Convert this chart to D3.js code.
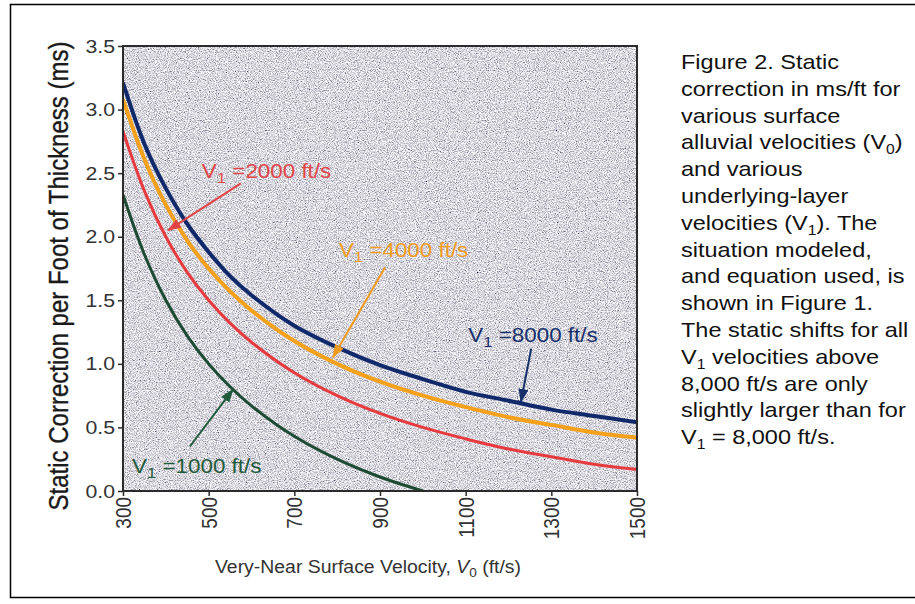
<!DOCTYPE html>
<html>
<head>
<meta charset="utf-8">
<script src="https://cdn.jsdelivr.net/npm/d3@7"></script>
<style>
  body { margin: 0; background: #fff; }
  text { font-family: "Liberation Sans", Arial, Helvetica, sans-serif; }
</style>
</head>
<body>
<div id="chart-area"></div>
<script>
// Static correction per foot of thickness vs very-near surface velocity
var v0Values = [300, 350, 400, 450, 500, 550, 600, 700, 800, 900, 1000, 1100, 1200, 1300, 1400, 1500];
var corr8000 = [3.21, 2.73, 2.38, 2.10, 1.88, 1.69, 1.54, 1.30, 1.13, 0.99, 0.88, 0.78, 0.71, 0.64, 0.59, 0.54];
var corr4000 = [3.08, 2.61, 2.25, 1.97, 1.75, 1.57, 1.42, 1.18, 1.00, 0.86, 0.75, 0.66, 0.58, 0.52, 0.46, 0.42];
var corr2000 = [2.83, 2.36, 2.00, 1.72, 1.50, 1.32, 1.17, 0.93, 0.75, 0.61, 0.50, 0.41, 0.33, 0.27, 0.21, 0.17];
var corr1000 = [2.33, 1.86, 1.50, 1.22, 1.00, 0.82, 0.67, 0.43, 0.25, 0.11, 0.00];
var xTicks = [300, 500, 700, 900, 1100, 1300, 1500];
var yTicks = [0, 0.5, 1.0, 1.5, 2.0, 2.5, 3.0, 3.5];

var seriesList = [
  {v1: '8000', values: corr8000, color: '#10296b', width: 4},
  {v1: '4000', values: corr4000, color: '#f6a11c', width: 4},
  {v1: '2000', values: corr2000, color: '#e63a3e', width: 3},
  {v1: '1000', values: corr1000, color: '#1d4a33', width: 3}
];

// label position and arrow (tail -> tip) in data units
var annotations = [
  {v1: '2000', color: '#e24446', lx: 484, ly: 2.46, tail: [575, 2.42], tip: [405, 2.05]},
  {v1: '4000', color: '#f29b1e', lx: 804, ly: 1.84, tail: [912, 1.76], tip: [790, 1.05]},
  {v1: '8000', color: '#17306c', lx: 1106, ly: 1.17, tail: [1253, 1.12], tip: [1229, 0.70]},
  {v1: '1000', color: '#1f5a3b', lx: 321, ly: 0.14, tail: [456, 0.35], tip: [557, 0.80]}
];

var captionLines = [
  ['Figure 2. Static'],
  ['correction in ms/ft for'],
  ['various surface'],
  ['alluvial velocities (V', '0', ')'],
  ['and various'],
  ['underlying-layer'],
  ['velocities (V', '1', '). The'],
  ['situation modeled,'],
  ['and equation used, is'],
  ['shown in Figure 1.'],
  ['The static shifts for all'],
  ['V', '1', ' velocities above'],
  ['8,000 ft/s are only'],
  ['slightly larger than for'],
  ['V', '1', ' = 8,000 ft/s.']
];

var outerWidth = 915;
var outerHeight = 604;
var margin = {left: 123, right: 278, top: 46, bottom: 113};
var innerWidth = outerWidth - margin.left - margin.right;
var innerHeight = outerHeight - margin.top - margin.bottom;
var stretch = 1.12;   // the scan is a little wider than tall

var svg = d3.select('#chart-area').append('svg')
            .attr('width', outerWidth)
            .attr('height', outerHeight)
            .style('display', 'block');

// outer frame
svg.append('path')
   .attr('d', 'M915,4.5 H10.5 V597.5 H915')
   .attr('fill', 'none')
   .attr('stroke', '#000')
   .attr('stroke-width', 1.5);

var defs = svg.append('defs');
var grain = defs.append('filter').attr('id', 'grain')
                .attr('x', 0).attr('y', 0).attr('width', 1).attr('height', 1);
grain.append('feTurbulence')
     .attr('type', 'fractalNoise')
     .attr('baseFrequency', 0.9)
     .attr('numOctaves', 2)
     .attr('seed', 7)
     .attr('result', 'noise');
grain.append('feColorMatrix')
     .attr('in', 'noise')
     .attr('type', 'matrix')
     .attr('values', '1.7 0.2 0 0 -0.25  1.7 0.2 0 0 -0.26  1.6 0.2 0.1 0 -0.21  0 0 0 0 1');

defs.append('clipPath').attr('id', 'plot-clip')
    .append('rect').attr('width', innerWidth).attr('height', innerHeight);

annotations.forEach(function(a){
  defs.append('marker')
      .attr('id', 'head-' + a.v1)
      .attr('markerUnits', 'userSpaceOnUse')
      .attr('markerWidth', 14).attr('markerHeight', 10)
      .attr('refX', 13).attr('refY', 5)
      .attr('orient', 'auto')
      .append('path')
      .attr('d', 'M0,0 L14,5 L0,10 Z')
      .attr('fill', a.color);
});

var g = svg.append('g')
           .attr('transform', 'translate(' + margin.left + ',' + margin.top + ')');

// scales
var xScale = d3.scaleLinear().domain([300, 1500]).range([0, innerWidth]);
var yScale = d3.scaleLinear().domain([0, 3.5]).range([innerHeight, 0]);

// speckled plot background
g.append('rect')
 .attr('width', innerWidth).attr('height', innerHeight)
 .attr('fill', '#a8a8b0')
 .attr('filter', 'url(#grain)');

// curves
var line = d3.line()
             .x(function(d){ return xScale(d[0]); })
             .y(function(d){ return yScale(d[1]); })
             .curve(d3.curveCatmullRom);

var curveG = g.append('g').attr('clip-path', 'url(#plot-clip)');
seriesList.forEach(function(s){
  var pts = s.values.map(function(v, i){ return [v0Values[i], v]; });
  curveG.append('path')
        .datum(pts)
        .attr('d', line)
        .attr('fill', 'none')
        .attr('stroke', s.color)
        .attr('stroke-width', s.width);
});

// plot frame
g.append('rect')
 .attr('width', innerWidth).attr('height', innerHeight)
 .attr('fill', 'none')
 .attr('stroke', '#2b2b2b')
 .attr('stroke-width', 2);

// axes
var yAxisG = g.append('g')
              .call(d3.axisLeft(yScale).tickValues(yTicks).tickFormat(d3.format('.1f'))
                      .tickSizeInner(5).tickSizeOuter(0).tickPadding(3));
var xAxisG = g.append('g')
              .attr('transform', 'translate(0,' + innerHeight + ')')
              .call(d3.axisBottom(xScale).tickValues(xTicks).tickFormat(d3.format('d'))
                      .tickSizeInner(5).tickSizeOuter(0));
[yAxisG, xAxisG].forEach(function(ax){
  ax.select('.domain').remove();
  ax.selectAll('line').attr('stroke', '#2b2b2b').attr('stroke-width', 1.5);
  ax.selectAll('text').attr('fill', '#333').attr('font-size', '19px')
    .attr('font-family', '"Liberation Sans", Arial, sans-serif');
});
yAxisG.selectAll('text')
      .attr('x', -8 / stretch)
      .attr('transform', 'scale(' + stretch + ',1)');
xAxisG.selectAll('text')
      .attr('x', -6).attr('y', 0).attr('dy', '0.36em')
      .attr('text-anchor', 'end')
      .attr('transform', 'scale(' + stretch + ',1) rotate(-90)');

// axis titles
svg.append('text')
   .attr('transform', 'translate(68,276) scale(' + stretch + ',1) rotate(-90)')
   .attr('text-anchor', 'middle')
   .attr('font-size', '24px')
   .attr('fill', '#1a1a1a')
   .attr('stroke', '#1a1a1a')
   .attr('stroke-width', 0.3)
   .text('Static Correction per Foot of Thickness (ms)');

var xTitle = svg.append('text')
                .attr('transform', 'translate(368,573) scale(1.05,1)')
                .attr('text-anchor', 'middle')
                .attr('font-size', '18.5px')
                .attr('fill', '#333');
xTitle.append('tspan').text('Very-Near Surface Velocity, ');
xTitle.append('tspan').attr('font-style', 'italic').text('V');
xTitle.append('tspan').attr('font-size', '13px').attr('dy', 4).text('0');
xTitle.append('tspan').attr('dy', -4).text(' (ft/s)');

// curve labels with arrows
annotations.forEach(function(a){
  g.append('line')
   .attr('x1', xScale(a.tail[0])).attr('y1', yScale(a.tail[1]))
   .attr('x2', xScale(a.tip[0])).attr('y2', yScale(a.tip[1]))
   .attr('stroke', a.color)
   .attr('stroke-width', 2)
   .attr('marker-end', 'url(#head-' + a.v1 + ')');
  var t = g.append('text')
           .attr('transform', 'translate(' + xScale(a.lx) + ',' + yScale(a.ly) + ') scale(' + stretch + ',1)')
           .attr('font-size', '20px')
           .attr('fill', a.color);
  t.append('tspan').text('V');
  t.append('tspan').attr('font-size', '15px').attr('dy', 5).text('1');
  t.append('tspan').attr('dy', -5).text(' =' + a.v1 + ' ft/s');
});

// caption on the right
var caption = svg.append('g')
                 .attr('transform', 'translate(681,69) scale(' + stretch + ',1)');
captionLines.forEach(function(parts, i){
  var t = caption.append('text')
                 .attr('y', i * 26.8)
                 .attr('font-size', '21px')
                 .attr('fill', '#111');
  parts.forEach(function(p, j){
    var isSub = (j === 1);
    t.append('tspan')
     .attr('font-size', isSub ? '14px' : null)
     .attr('dy', isSub ? 5 : (j === 2 ? -5 : null))
     .text(p);
  });
});
</script>
</body>
</html>
